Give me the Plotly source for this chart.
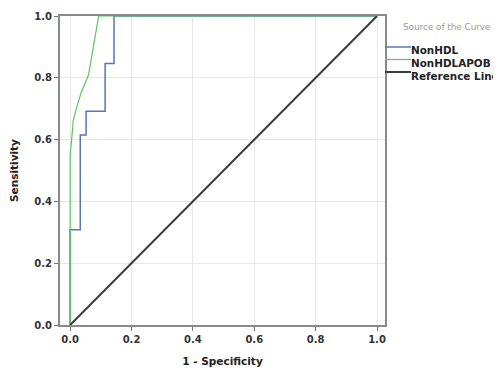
import plotly.graph_objects as go

# NonHDL ROC steps (1 - specificity, sensitivity)
nonhdl_fpr = [0.0, 0.0, 0.033, 0.033, 0.052, 0.052, 0.114, 0.114, 0.143, 0.143, 1.0]
nonhdl_tpr = [0.0, 0.308, 0.308, 0.615, 0.615, 0.692, 0.692, 0.846, 0.846, 1.0, 1.0]

# NonHDLAPOB ROC curve
apob_fpr = [0.0, 0.0, 0.005, 0.01, 0.02, 0.035, 0.06, 0.075, 0.093, 1.0]
apob_tpr = [0.0, 0.55, 0.60, 0.66, 0.70, 0.75, 0.81, 0.90, 1.0, 1.0]

ref_x = [0.0, 1.0]
ref_y = [0.0, 1.0]

tick_vals = [0.0, 0.2, 0.4, 0.6, 0.8, 1.0]
tick_text = ["0.0", "0.2", "0.4", "0.6", "0.8", "1.0"]

series_names = ["NonHDL", "NonHDLAPOB", "Reference Line"]
series_colors = ["#5a74b8", "#5cc85c", "#3a3a3a"]
series_widths = [1.5, 1.2, 2]
legend_title = "Source of the Curve"

FONT = "DejaVu Sans"

fig = go.Figure()
for xs, ys, nm, col, w in zip([nonhdl_fpr, apob_fpr, ref_x], [nonhdl_tpr, apob_tpr, ref_y],
                              series_names, series_colors, series_widths):
    fig.add_trace(go.Scatter(x=xs, y=ys, mode="lines", name=nm,
                             line=dict(color=col, width=w), showlegend=False))

axis_common = dict(
    tickvals=tick_vals, ticktext=["<b>" + t + "</b>" for t in tick_text],
    showgrid=True, gridcolor="#e6e6e6", gridwidth=1,
    zeroline=False, showline=True, linecolor="#8a8a8a", linewidth=2,
    mirror=True, ticks="outside", ticklen=4, tickcolor="#777",
    tickfont=dict(family=FONT, size=10, color="#333"),
)

# custom compact legend (plot area spans 60..385 px horizontally, 16..325 px vertically in the window)
W, H = 325.0, 309.0
def px_x(p):
    return (p - 60) / W
def px_y(p):
    return (325 - p) / H

annotations = [dict(xref="paper", yref="paper", x=px_x(401), y=px_y(27), text=legend_title,
                    showarrow=False, xanchor="left", yanchor="middle",
                    font=dict(family=FONT, size=8.8, color="#9a9a9a"))]
shapes = []
for i, (nm, col, w) in enumerate(zip(series_names, series_colors, series_widths)):
    yy = 47 + 12.5 * i
    shapes.append(dict(type="line", xref="paper", yref="paper", x0=px_x(385), x1=px_x(411),
                       y0=px_y(yy), y1=px_y(yy), line=dict(color=col, width=w)))
    annotations.append(dict(xref="paper", yref="paper", x=px_x(409), y=px_y(yy + 3.5),
                            text="<b>" + nm + "</b>",
                            showarrow=False, xanchor="left", yanchor="middle",
                            font=dict(family=FONT, size=10.4, color="#222")))

# page body has an 8px default margin, so the figure is sized/offset to compensate
fig.update_layout(
    width=493, height=363,
    margin=dict(l=52, r=116, t=8, b=46, autoexpand=False),
    paper_bgcolor="white", plot_bgcolor="white",
    xaxis=dict(range=[-0.033, 1.026], title=dict(text="<b>1 - Specificity</b>",
               font=dict(family=FONT, size=10.5, color="#222"), standoff=14),
               **axis_common),
    yaxis=dict(range=[0, 1.0], title=dict(text="<b>Sensitivity</b>",
               font=dict(family=FONT, size=10.5, color="#222"), standoff=14),
               **axis_common),
    annotations=annotations,
    shapes=shapes,
    showlegend=False,
)

fig.write_html("out.html")
